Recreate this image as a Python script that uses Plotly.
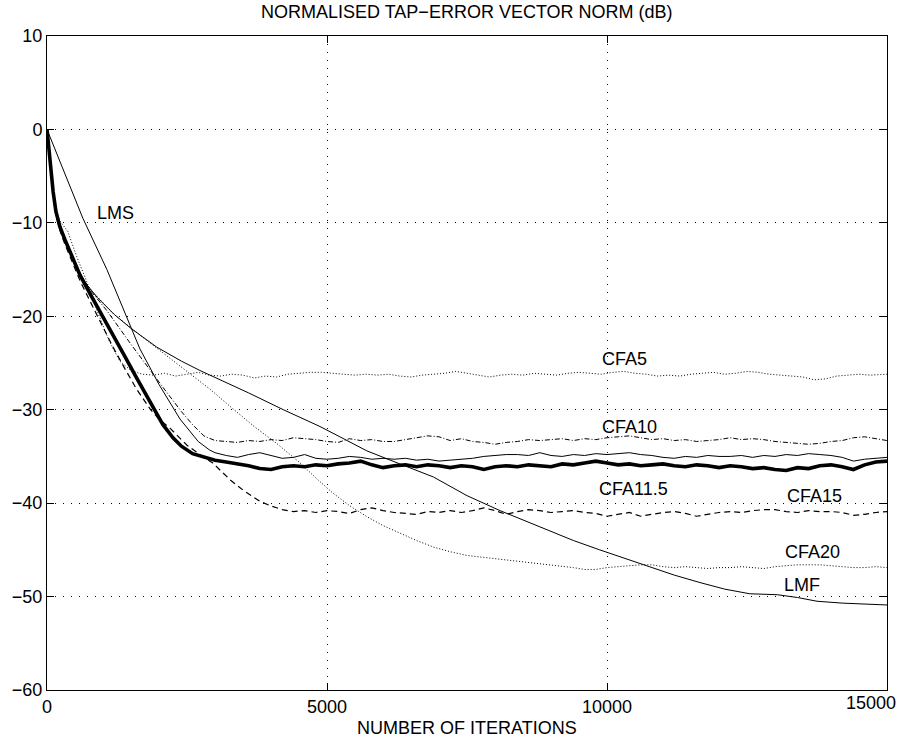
import plotly.graph_objects as go

# ---------------- data ----------------
PLAT_X = list(range(3000, 15001, 200))

# Thick solid curve (CFA11.5)
cfa115_early_x = [0, 30, 60, 110, 160, 230, 320, 420, 590, 770, 950, 1170, 1390, 1600, 1850, 2070, 2250, 2400, 2600, 2800]
cfa115_early_y = [0, -2.0, -3.6, -6.7, -8.8, -10.4, -11.8, -13.2, -15.6, -17.6, -19.6, -22.0, -24.3, -26.6, -29.3, -31.6, -33.0, -33.9, -34.7, -35.1]
cfa115_plat_y = [-35.4, -35.6, -35.8, -36.0, -36.3, -36.4, -36.1, -36.0, -36.1, -35.9, -36.0, -35.8, -35.7, -35.5, -35.9, -36.2,
                 -36.0, -35.9, -36.1, -35.9, -36.0, -36.2, -36.0, -36.1, -36.4, -36.1, -36.0, -36.1, -35.9, -36.0, -36.1, -35.8,
                 -35.9, -35.7, -35.5, -35.7, -35.9, -35.8, -36.0, -35.9, -35.8, -36.0, -36.1, -35.9, -36.0, -36.2, -36.0, -36.1,
                 -36.3, -36.2, -36.4, -36.5, -36.2, -36.3, -36.0, -35.9, -36.1, -36.4, -35.9, -35.6, -35.5]

# LMS (thin solid)
lms_early_x = [0, 300, 640, 1070, 1400, 1660, 2000, 2375, 2700, 2900]
lms_early_y = [0, -4.5, -9.5, -15.0, -19.8, -23.5, -27.3, -31.0, -33.4, -34.3]
lms_plat_y = [-34.6, -34.9, -35.1, -34.8, -34.6, -34.9, -35.2, -35.1, -34.8, -35.2, -35.3, -35.2, -35.0, -35.1, -35.3, -35.2,
              -35.3, -35.2, -35.4, -35.3, -35.5, -35.4, -35.3, -35.2, -35.0, -34.9, -34.8, -34.8, -34.9, -34.6, -34.9, -35.0,
              -34.8, -34.9, -34.7, -34.8, -34.7, -34.6, -34.8, -34.9, -35.1, -35.2, -35.0, -35.1, -34.9, -35.0, -35.0, -34.9,
              -35.1, -34.9, -35.0, -34.8, -34.9, -34.7, -34.8, -34.9, -35.1, -35.5, -35.3, -35.2, -35.1]

# CFA10 (dash-dot)
cfa10_early_x = [0, 30, 60, 110, 160, 230, 320, 420, 590, 770, 1070, 1500, 2070, 2400, 2600, 2800]
cfa10_early_y = [0, -2.0, -3.6, -6.7, -8.8, -10.3, -11.7, -13.0, -15.5, -17.2, -19.4, -23.0, -27.6, -30.2, -31.6, -32.8]
cfa10_plat_y = [-33.3, -33.4, -33.5, -33.3, -33.4, -33.2, -33.3, -33.0, -33.1, -33.2, -33.4, -33.5, -33.1, -33.3, -33.2, -33.4,
                -33.4, -33.2, -33.0, -32.8, -32.9, -33.3, -33.1, -33.4, -33.5, -33.7, -33.5, -33.4, -33.2, -33.3, -33.2, -33.1,
                -33.3, -33.1, -33.2, -33.0, -32.9, -32.8, -33.0, -33.2, -33.1, -33.3, -33.2, -33.4, -33.3, -33.2, -33.0, -33.2,
                -33.1, -33.2, -33.4, -33.5, -33.6, -33.7, -33.6, -33.4, -33.3, -33.0, -32.9, -33.1, -33.3]

# CFA5 (dotted)
cfa5_x = [0, 30, 60, 110, 160, 230, 370, 530, 710, 900, 1100, 1300, 1500, 1700] + list(range(1900, 15000, 200)) + [15000]
cfa5_y = [0, -1.8, -3.4, -6.3, -8.4, -9.8, -10.9, -13.6, -16.3, -19.5, -22.5, -24.8, -25.8, -26.2,
          -26.3, -26.1, -26.4, -26.2, -26.0, -26.3, -26.4, -26.2, -26.3, -26.6, -26.4, -26.5, -26.2, -26.1, -26.0, -26.0,
          -26.1, -26.2, -26.3, -26.2, -26.3, -26.2, -26.4, -26.5, -26.3, -26.2, -26.1, -25.9, -26.1, -26.3, -26.5, -26.3,
          -26.2, -26.3, -26.1, -26.2, -26.3, -26.1, -26.0, -26.1, -26.2, -26.0, -25.9, -26.1, -26.2, -26.4, -26.3, -26.4,
          -26.2, -26.1, -26.0, -26.2, -26.1, -25.9, -26.0, -26.2, -26.3, -26.4, -26.5, -26.8, -26.7, -26.4, -26.3, -26.2,
          -26.3, -26.2, -26.2]

# CFA15 (dashed)
cfa15_x = [0, 30, 60, 110, 160, 230, 320, 420, 590, 770, 950, 1170, 1390, 1600, 1850, 2000, 2200, 2500, 2800, 2960,
           3270, 3500, 3800, 4000, 4200, 4400] + list(range(4600, 15001, 200))
cfa15_y = [0, -2.1, -3.8, -7.0, -9.2, -10.8, -12.3, -13.8, -16.2, -18.4, -20.6, -23.2, -25.6, -27.8, -30.0, -31.0,
           -32.0, -33.8, -35.1, -35.7, -37.5, -38.6, -39.8, -40.3, -40.7, -40.9,
           -40.8, -41.0, -40.8, -40.9, -41.1, -40.7, -40.5, -40.8, -41.0, -41.1, -41.2, -40.9, -41.0, -40.8, -41.0, -40.8,
           -40.5, -40.8, -41.2, -40.9, -40.7, -40.8, -41.0, -40.9, -40.8, -41.0, -41.1, -41.4, -41.2, -41.0, -41.4, -41.2,
           -41.0, -40.9, -41.1, -41.4, -41.2, -41.0, -40.9, -41.0, -40.8, -40.7, -40.7, -40.9, -41.0, -40.8, -40.9, -40.9,
           -41.0, -41.3, -41.2, -41.0, -40.9]

# CFA20 (dotted)
cfa20_x = [0, 30, 60, 110, 160, 230, 320, 420, 590, 770, 1200, 1700, 2140, 2500, 2910, 3300, 3700, 4100, 4520, 4800,
           5100, 5410, 5700, 6000, 6300, 6600, 6900, 7200, 7500, 7800, 8100, 8400, 8700, 9000] + list(range(9200, 15001, 200))
cfa20_y = [0, -2.0, -3.6, -6.6, -8.7, -10.2, -11.6, -13.0, -15.5, -17.1, -19.8, -22.2, -24.2, -25.9, -27.8, -29.8,
           -31.8, -33.6, -35.7, -37.3, -38.9, -40.3, -41.4, -42.4, -43.2, -44.0, -44.7, -45.2, -45.6, -45.8, -46.0, -46.2,
           -46.4, -46.6,
           -46.7, -46.9, -47.1, -47.1, -46.9, -46.8, -46.7, -46.6, -46.6, -46.8, -46.9, -46.8, -46.9, -47.0, -46.9, -46.9,
           -46.8, -46.9, -47.0, -46.8, -46.7, -46.6, -46.6, -46.6, -46.7, -46.8, -46.9, -46.9, -46.8, -46.9]

# LMF (thin solid)
lmf_x = [0, 30, 60, 110, 160, 230, 320, 420, 590, 710, 900, 1200, 1500, 1960, 2400, 2730, 3140, 3600, 4220, 4875,
         5230, 5710, 6300, 6900, 7500, 8090, 8500, 8980, 9400, 9870, 10300, 10770, 11200, 11660, 12100, 12550, 13040,
         13400, 13750, 14200, 14640, 15000]
lmf_y = [0, -2.0, -3.6, -6.6, -8.7, -10.2, -11.6, -13.0, -15.5, -16.6, -18.0, -19.8, -21.3, -23.3, -24.8, -25.8,
         -26.9, -28.2, -30.0, -31.8, -32.9, -34.4, -35.8, -37.2, -39.2, -40.8, -41.8, -43.0, -44.0, -45.0, -45.9, -46.8,
         -47.7, -48.5, -49.2, -49.7, -49.8, -50.1, -50.5, -50.7, -50.8, -50.9]

labels = ["LMS", "CFA5", "CFA10", "CFA11.5", "CFA15", "CFA20", "LMF"]
label_x = [857, 9875, 9875, 9821, 13179, 13143, 13125]
label_y = [-8.9, -24.6, -31.9, -38.5, -39.2, -45.2, -48.8]

TITLE = "NORMALISED TAP\u2212ERROR VECTOR NORM (dB)"
XTITLE = "NUMBER OF ITERATIONS"
X_TICKS = [0, 5000, 10000, 15000]
Y_TICKS = [10, 0, -10, -20, -30, -40, -50, -60]

# ---------------- figure ----------------
fig = go.Figure()

def add(x, y, width=1.0, dash="solid"):
    fig.add_trace(go.Scatter(x=x, y=y, mode="lines", line=dict(color="black", width=width, dash=dash),
                             showlegend=False, hoverinfo="skip"))

add(cfa5_x, cfa5_y, 1.0, "1px,2px")
add(cfa20_x, cfa20_y, 1.0, "1px,2px")
add(cfa10_early_x + PLAT_X, cfa10_early_y + cfa10_plat_y, 1.0, "5px,2px,1px,2px")
add(cfa15_x, cfa15_y, 1.2, "6px,4px")
add(lmf_x, lmf_y, 1.0)
add(lms_early_x + PLAT_X, lms_early_y + lms_plat_y, 1.0)
add(cfa115_early_x + PLAT_X, cfa115_early_y + cfa115_plat_y, 3.6)

FONT = "Liberation Sans, Arial, Helvetica, sans-serif"
FS = 18
for t, lx, ly in zip(labels, label_x, label_y):
    fig.add_annotation(x=lx, y=ly, text=t, showarrow=False, xanchor="left", yanchor="middle",
                       font=dict(family=FONT, size=FS, color="black"))

fig.add_annotation(x=0.5, y=0, xref="paper", yref="paper", text=XTITLE, showarrow=False,
                   xanchor="center", yanchor="top", yshift=-26, font=dict(family=FONT, size=FS, color="black"))
fig.add_annotation(x=0.5, y=1, xref="paper", yref="paper", text=TITLE, showarrow=False,
                   xanchor="center", yanchor="bottom", yshift=12, font=dict(family=FONT, size=FS, color="black"))

# last x tick label, kept inside the page like the reference
fig.add_annotation(x=X_TICKS[-1], y=Y_TICKS[-1], text=str(X_TICKS[-1]), showarrow=False,
                   xanchor="right", yanchor="middle", xshift=11, yshift=-13,
                   font=dict(family=FONT, size=FS, color="black"))

axis_common = dict(showline=True, linecolor="black", linewidth=1, mirror="ticks", ticks="inside", ticklen=7,
                   tickcolor="black", showgrid=True, gridcolor="black", gridwidth=1, griddash="1px,7px",
                   zeroline=False, tickfont=dict(family=FONT, size=FS, color="black"))

fig.update_xaxes(range=[0, 15000], tickvals=X_TICKS,
                 ticktext=[str(v) for v in X_TICKS[:-1]] + [""], **axis_common)
fig.update_yaxes(range=[-60, 10], tickvals=Y_TICKS, **axis_common)

fig.update_layout(width=900, height=739, margin=dict(l=47, r=13, t=36, b=49),
                  paper_bgcolor="white", plot_bgcolor="white", font=dict(family=FONT))

fig.write_html("out.html")
